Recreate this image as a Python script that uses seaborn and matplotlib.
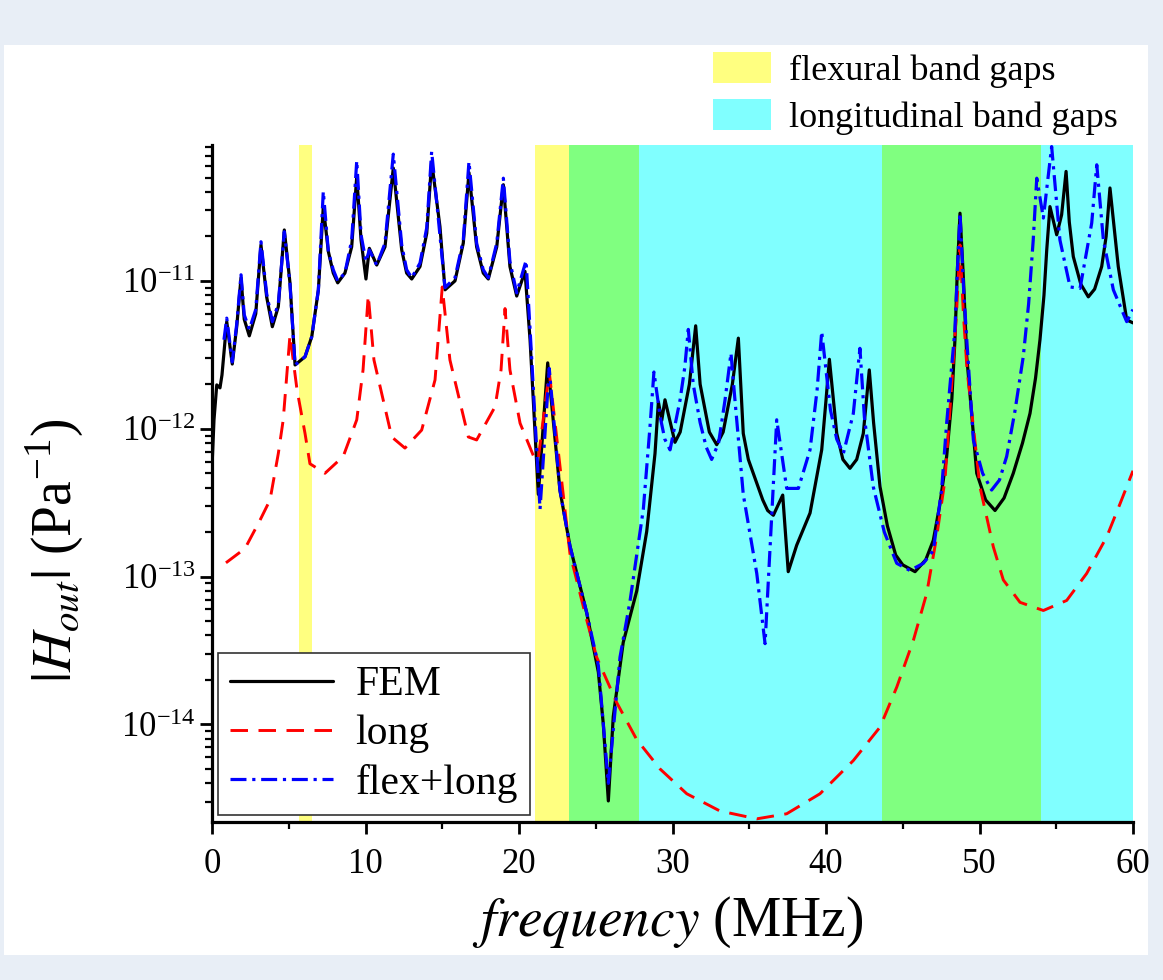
import matplotlib
matplotlib.use("Agg")
import matplotlib.pyplot as plt
from matplotlib.patches import Patch, Rectangle
from matplotlib.ticker import MultipleLocator, LogLocator, NullFormatter
import seaborn as sb

# Frequency response |H_out| (frequency in MHz, H in 1/Pa)
fem_f = [0.00, 0.13, 0.31, 0.52, 0.65, 0.96, 1.32, 1.61, 1.89, 2.10, 2.43, 2.85, 3.19, 3.56, 3.93, 4.32,
         4.71, 5.08, 5.41, 6.06, 6.50,
         6.93, 7.25, 7.58, 7.90, 8.19, 8.66, 9.10, 9.43, 9.71, 10.03, 10.25, 10.73, 11.27, 11.81, 12.36,
         12.68, 13.01, 13.55, 13.99, 14.31, 14.85, 15.18, 15.83, 16.37, 16.74, 17.24, 17.67, 18.00, 18.55,
         18.98, 19.41, 19.85, 20.39, 20.72, 21.26, 21.87, 22.67, 23.32, 24.41, 25.17, 25.49, 25.82, 26.14,
         26.79, 27.67, 28.32, 28.86, 29.08, 29.30, 29.51, 30.16, 30.50, 31.10, 31.51, 31.80, 32.40, 32.88,
         33.30, 33.90, 34.29, 34.61, 34.94, 35.26, 35.88, 36.20, 36.57, 37.18, 37.54, 38.09, 38.96, 39.72,
         40.00, 40.22, 40.70, 41.10, 41.56, 42.00, 42.43, 42.82, 43.10, 43.52, 44.00, 44.54, 45.00, 45.80,
         46.50, 46.99, 47.40, 47.86, 48.20, 48.40, 48.55, 48.73, 48.96, 49.17, 49.82, 50.40, 51.01, 51.60,
         52.20, 52.80, 53.29, 53.65, 53.94, 54.20, 54.38, 54.59, 55.03, 55.35, 55.64, 55.85, 56.11, 56.60,
         57.09, 57.50, 57.96, 58.25, 58.50, 59.04, 59.59, 60.00]
fem_h = [5.5e-13, 1.15e-12, 1.98e-12, 1.89e-12, 2.31e-12, 5.3e-12, 2.74e-12, 4.9e-12, 1.05e-11, 5.5e-12,
         4.25e-12, 6.0e-12, 1.75e-11, 7.8e-12, 4.9e-12, 6.7e-12, 2.21e-11, 9.7e-12, 2.7e-12, 3.07e-12, 4.2e-12,
         8.7e-12, 3.18e-11, 1.58e-11, 1.13e-11,
         9.7e-12, 1.13e-11, 1.7e-11, 5.08e-11, 1.89e-11, 1.03e-11, 1.66e-11, 1.28e-11, 1.7e-11, 5.8e-11,
         1.62e-11, 1.13e-11, 1.03e-11, 1.25e-11, 2.1e-11, 6.4e-11, 2.33e-11, 8.7e-12, 1.0e-11, 1.8e-11,
         5.4e-11, 1.7e-11, 1.13e-11, 1.03e-11, 1.7e-11, 4.47e-11, 1.25e-11, 7.9e-12, 1.16e-11, 4.0e-12,
         3.6e-13, 2.79e-12, 3.82e-13, 1.61e-13, 5.7e-14, 2.26e-14, 1.01e-14, 3.04e-15, 1.13e-14, 3.59e-14,
         8.0e-14, 2.02e-13, 6.8e-13, 1.52e-12, 1.14e-12, 1.57e-12, 8.1e-13, 9.5e-13, 2.0e-12, 4.97e-12,
         2.0e-12, 9.5e-13, 7.8e-13, 9.5e-13, 2.0e-12, 4.1e-12, 9.3e-13, 6.2e-13, 5.0e-13, 3.3e-13, 2.8e-13,
         2.6e-13, 3.56e-13, 1.08e-13, 1.63e-13, 2.69e-13, 7.2e-13, 1.56e-12, 2.95e-12, 9.3e-13, 6.2e-13,
         5.4e-13, 6.2e-13, 9.3e-13, 2.5e-12, 1.1e-12, 4.05e-13, 2.2e-13, 1.4e-13, 1.2e-13, 1.08e-13, 1.3e-13,
         1.76e-13, 3.0e-13, 6.5e-13, 1.6e-12, 4.0e-12, 1.13e-11, 2.87e-11, 1.0e-11, 3.07e-12, 5.0e-13,
         3.3e-13, 2.8e-13, 3.4e-13, 5.0e-13, 8.0e-13, 1.27e-12, 2.2e-12, 4.0e-12, 8.0e-12, 1.62e-11,
         3.18e-11, 2.05e-11, 2.8e-11, 5.5e-11, 2.5e-11, 1.46e-11, 9.5e-12, 7.8e-12, 8.8e-12, 1.25e-11,
         2.0e-11, 4.25e-11, 1.25e-11, 5.45e-12, 5.2e-12]

long_f = [0.91, 2.15, 3.13, 3.78, 4.32, 4.64, 5.08, 5.54, 6.06, 6.38, 7.36, 8.55, 9.43, 9.84, 10.18, 10.55,
          11.71, 12.57, 13.66, 14.53, 15.00, 15.50, 16.70, 17.24, 18.44, 18.83, 19.09, 19.41, 20.07, 20.93,
          21.24, 21.97, 23.32, 24.41, 25.06, 26.36, 27.67, 29.19, 30.93, 33.09, 35.49, 37.44, 39.61, 41.78,
          43.52, 44.61, 45.69, 46.56, 47.21, 47.75, 48.21, 48.50, 48.73, 48.95, 49.19, 50.03, 50.90, 51.55,
          52.64, 54.16, 55.68, 56.98, 58.29, 59.15, 60.00]
long_h = [1.24e-13, 1.55e-13, 2.41e-13, 3.3e-13, 6.8e-13, 1.15e-12, 4.3e-12, 1.83e-12, 9.3e-13, 5.8e-13,
          5.0e-13, 6.5e-13, 1.15e-12, 2.5e-12, 8.0e-12, 2.92e-12, 8.8e-13, 7.4e-13, 9.8e-13, 2.14e-12,
          9.1e-12, 2.92e-12, 8.8e-13, 8.4e-13, 1.41e-12, 2.5e-12, 6.5e-12, 2.5e-12, 1.09e-12, 6.6e-13,
          6.1e-13, 2.42e-12, 1.43e-13, 5.1e-14, 2.85e-14, 1.41e-14, 7.9e-15, 5.0e-15, 3.4e-15, 2.6e-15,
          2.3e-15, 2.49e-15, 3.4e-15, 5.7e-15, 9.6e-15, 1.79e-14, 3.7e-14, 7.7e-14, 1.86e-13, 4.5e-13,
          2.14e-12, 6.0e-12, 1.75e-11, 6.0e-12, 2.5e-12, 4.05e-13, 1.59e-13, 9.5e-14, 6.7e-14, 5.9e-14,
          6.9e-14, 1.05e-13, 1.86e-13, 3.1e-13, 5.2e-13]

flex_f = [0.78, 0.96, 1.32, 1.61, 1.89, 2.10, 2.43, 2.85, 3.19, 3.56, 3.93, 4.32, 4.71, 5.08, 5.41, 6.06,
          6.50, 6.93, 7.25, 7.58, 7.90,
          8.19, 8.66, 9.10, 9.43, 9.71, 10.03, 10.25, 10.73, 11.27, 11.81, 12.36, 12.68, 13.01, 13.55, 13.99,
          14.31, 14.72, 15.18, 15.83, 16.37, 16.74, 17.24, 17.67, 18.00, 18.55, 18.98, 19.41, 19.85, 20.46,
          20.72, 21.37, 21.97, 22.67, 23.32, 24.41, 25.17, 25.82, 26.58, 27.23, 28.10, 28.53, 28.79, 29.20,
          29.50, 29.84, 30.49, 30.80, 31.03, 31.35, 31.80, 32.20, 32.55, 33.00, 33.42, 33.81, 34.07, 34.61,
          35.49, 36.03, 36.46, 36.79, 37.44, 38.20, 38.96, 39.42, 39.72, 40.29, 40.70, 41.13, 41.78, 42.21,
          42.50, 43.08, 43.80, 44.61, 45.47, 46.34, 46.99, 47.53, 47.86, 48.40, 48.55, 48.73, 48.96, 49.17,
          49.60, 50.20, 50.79, 51.30, 51.77, 52.30, 52.85, 53.20, 53.50, 53.73, 54.16, 54.70, 55.24, 55.90,
          56.55, 57.31, 57.64, 58.07, 58.72, 59.59, 60.00]
flex_h = [4.0e-12, 5.6e-12, 2.83e-12, 5.1e-12, 1.1e-11, 5.9e-12, 4.7e-12, 6.4e-12, 1.84e-11, 8.2e-12,
          5.3e-12, 7.0e-12, 2.15e-11, 9.5e-12, 2.7e-12,
          3.07e-12, 4.2e-12, 8.7e-12, 4.03e-11, 1.58e-11, 1.19e-11, 1.0e-11, 1.13e-11, 1.89e-11, 6.5e-11,
          2.05e-11, 1.35e-11, 1.62e-11, 1.28e-11, 1.8e-11, 7.2e-11, 1.75e-11, 1.19e-11, 1.05e-11, 1.32e-11,
          2.29e-11, 7.5e-11, 2.8e-11, 9.0e-12, 1.05e-11, 1.89e-11, 6.4e-11, 1.8e-11, 1.19e-11, 1.05e-11,
          1.8e-11, 4.95e-11, 1.35e-11, 8.3e-12, 1.37e-11, 4.7e-12, 2.86e-13, 2.56e-12, 3.82e-13, 1.61e-13,
          5.7e-14, 2.5e-14, 4.0e-15, 2.85e-14, 6.8e-14, 2.86e-13, 1.02e-12, 2.42e-12, 1.2e-12, 8.5e-13,
          7.2e-13, 1.56e-12, 2.6e-12, 4.7e-12, 2.0e-12, 1.1e-12, 7.5e-13, 6.2e-13, 8.0e-13, 1.56e-12,
          3.24e-12, 1.56e-12, 3.6e-13, 1.05e-13, 3.52e-14, 2.54e-13, 1.15e-12, 3.95e-13, 3.95e-13, 7.2e-13,
          1.83e-12, 4.54e-12, 1.34e-12, 8.5e-13, 6.8e-13, 1.27e-12, 3.5e-12, 1.2e-12, 4.05e-13, 2.0e-13,
          1.23e-13, 1.1e-13, 1.23e-13, 1.5e-13, 3.85e-13, 1.09e-12, 4.7e-12, 1.13e-11, 2.87e-11, 9.0e-12,
          4.0e-12, 8.4e-13, 5.0e-13, 3.85e-13, 4.5e-13, 6.5e-13, 1.3e-12, 3.07e-12, 7.0e-12, 1.89e-11,
          4.95e-11, 2.66e-11, 8.1e-11, 1.89e-11, 9.1e-12, 8.9e-12, 2.46e-11, 6.1e-11, 1.89e-11, 8.7e-12,
          5.3e-12, 6.4e-12]

# band gaps (MHz): flexural only, overlap (both), longitudinal only
flex_gaps = [(5.67, 6.50), (21.04, 23.26)]
both_gaps = [(23.26, 27.84), (43.63, 53.99)]
long_gaps = [(27.84, 43.63), (53.99, 60.0)]

y_ticks = [1e-14, 1e-13, 1e-12, 1e-11]

yellow = "#ffff80"
cyan = "#80ffff"
green = "#80ff80"

sb.set_style("ticks")
plt.rcParams["font.family"] = ["Liberation Serif", "DejaVu Serif"]
plt.rcParams["mathtext.fontset"] = "stix"
for key in ["text.color", "axes.labelcolor", "xtick.color", "ytick.color", "axes.edgecolor"]:
    plt.rcParams[key] = "black"

fig = plt.figure(figsize=(11.63, 9.8), dpi=100)
fig.patch.set_facecolor("#e8eef6")
fig.add_artist(Rectangle((4 / 1163, 1 - 955 / 980), 1144 / 1163, 910 / 980, transform=fig.transFigure,
                         facecolor="white", edgecolor="none", zorder=-10))

ax = fig.add_axes([212 / 1163, 1 - 822 / 980, 921 / 1163, 677 / 980])
ax.set_facecolor("none")

for a, b in flex_gaps:
    ax.axvspan(a, b, color=yellow, lw=0, zorder=0)
for a, b in both_gaps:
    ax.axvspan(a, b, color=green, lw=0, zorder=0)
for a, b in long_gaps:
    ax.axvspan(a, b, color=cyan, lw=0, zorder=0)

sb.lineplot(x=fem_f, y=fem_h, ax=ax, color="black", lw=2.3, sort=False, estimator=None, zorder=3)
sb.lineplot(x=long_f, y=long_h, ax=ax, color="#ff0000", lw=2.1, sort=False, estimator=None, zorder=4)
sb.lineplot(x=flex_f, y=flex_h, ax=ax, color="#0000ff", lw=2.3, sort=False, estimator=None, zorder=5)

l_fem, l_long, l_flex = ax.get_lines()[:3]
for ln in (l_fem, l_long, l_flex):
    ln.set_solid_joinstyle("round")
    ln.set_dash_joinstyle("round")
l_long.set_dashes([6.0, 3.6])
l_flex.set_dashes([5.0, 1.8, 1.0, 1.8])

ax.set_yscale("log")
ax.set_xlim(0, 60)
ax.set_ylim(2.19e-15, 8.3e-11)
ax.xaxis.set_major_locator(MultipleLocator(10))
ax.xaxis.set_minor_locator(MultipleLocator(5))
ax.set_yticks(y_ticks)
ax.yaxis.set_minor_locator(LogLocator(base=10, subs=range(2, 10), numticks=20))
ax.yaxis.set_minor_formatter(NullFormatter())

for side in ["top", "right"]:
    ax.spines[side].set_visible(False)
for side in ["left", "bottom"]:
    ax.spines[side].set_linewidth(2.3)
    ax.spines[side].set_color("black")
    ax.spines[side].set_zorder(6)

ax.tick_params(which="major", length=8.5, width=2.0, color="black", labelcolor="black", labelsize=25)
ax.tick_params(which="minor", length=5, width=1.6, color="black")
ax.tick_params(axis="x", which="major", pad=10)
ax.tick_params(axis="y", which="major", pad=3)
ax.set_xlabel("")
ax.set_ylabel("")

fig.text(668 / 1163, 1 - 922 / 980, r"$\mathit{frequency}$ (MHz)", fontsize=40, ha="center", va="center",
         color="black")
fig.text(55 / 1163, 1 - 551 / 980, r"$|H_{out}|$ (Pa$^{\mathregular{-1}}$)", fontsize=40, rotation=90,
         ha="center", va="center", color="black")

leg = ax.legend([l_fem, l_long, l_flex], ["FEM", "long", "flex+long"], loc="lower left",
                bbox_to_anchor=(0.0065, 0.0103), borderaxespad=0, fontsize=30, handlelength=2.45,
                labelspacing=0.25, borderpad=0.3, handletextpad=0.55, fancybox=False, framealpha=1)
leg.get_frame().set_edgecolor("#333333")
leg.get_frame().set_linewidth(1.2)
leg.set_zorder(10)
for t in leg.get_texts():
    t.set_color("black")

top = fig.legend([Patch(facecolor=yellow, lw=0), Patch(facecolor=cyan, lw=0)],
                 ["flexural band gaps", "longitudinal band gaps"], loc="upper left",
                 bbox_to_anchor=(688 / 1163, 1 - 27 / 980), fontsize=26, frameon=False, handlelength=1.6,
                 handleheight=0.95, handletextpad=0.5, labelspacing=0.3, borderpad=0.2)
for t in top.get_texts():
    t.set_color("black")

fig.savefig("out.png", dpi=100, facecolor=fig.get_facecolor())
